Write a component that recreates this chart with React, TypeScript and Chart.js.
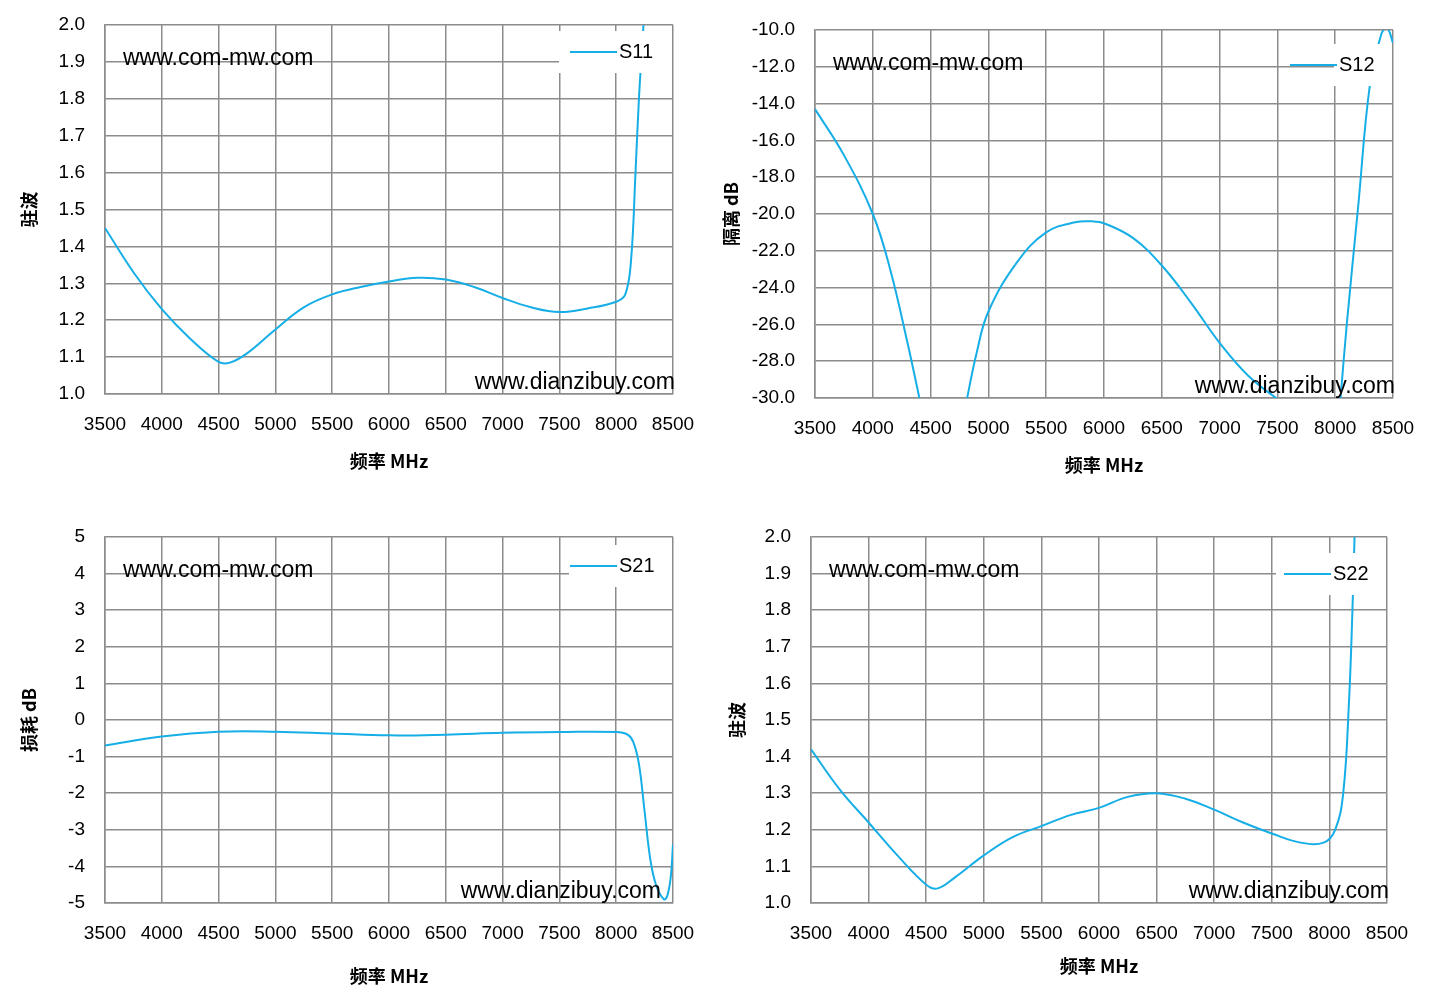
import React, { useEffect, useRef } from "react";
import { Chart, registerables } from "chart.js";
Chart.register(...registerables);

const s11X = [3500,3750,4000,4250,4500,4600,4750,5000,5250,5500,5750,6000,6250,6500,6750,7000,7250,7500,7750,8000,8080,8130,8170,8200,8230,8250];
const s11Y = [1.45,1.33,1.23,1.15,1.087,1.085,1.11,1.175,1.235,1.27,1.29,1.305,1.315,1.31,1.29,1.26,1.235,1.222,1.232,1.25,1.27,1.36,1.6,1.8,1.95,2.05];
const s12X = [3500,3750,4000,4150,4300,4420,4430,4780,4800,4900,5000,5250,5500,5750,5900,6000,6250,6500,6750,7000,7250,7550,7560,8020,8040,8100,8200,8300,8400,8450,8500];
const s12Y: (number|null)[] = [-14.3,-16.8,-20,-23,-27,-30.5,null,null,-30.5,-27.5,-25.3,-22.6,-21,-20.45,-20.4,-20.5,-21.3,-22.8,-24.8,-27,-28.8,-30.3,null,null,-30.5,-26,-19.5,-13,-10.2,-9.9,-10.7];
const s21X = [3500,4000,4500,5000,5500,6000,6500,7000,7500,8000,8100,8150,8200,8250,8300,8350,8420,8450,8480,8500];
const s21Y = [-0.7,-0.45,-0.32,-0.32,-0.37,-0.42,-0.4,-0.35,-0.33,-0.33,-0.4,-0.6,-1.2,-2.5,-3.8,-4.5,-4.9,-4.8,-4.3,-3.4];
const s22X = [3500,3750,4000,4250,4500,4600,4750,5000,5250,5500,5750,6000,6250,6500,6750,7000,7250,7500,7750,7950,8050,8120,8170,8200,8220];
const s22Y = [1.42,1.31,1.22,1.13,1.05,1.04,1.07,1.13,1.18,1.21,1.24,1.26,1.29,1.30,1.285,1.255,1.22,1.19,1.165,1.165,1.2,1.3,1.55,1.8,2.02];

const BLUE = "#16aee6";
const GRID = "#8c8c8c";
const TICKF = { family: "'Liberation Sans', 'Open Sans', sans-serif", size: 19 };
const TITLEF = { family: "'Noto Sans CJK SC', sans-serif", size: 18, weight: "bold" as const };
const WMF = "23px 'Liberation Sans', 'Open Sans', sans-serif";

type Cfg = {
  left: number; top: number; h: number;
  plotL: number; padL: number; padR: number; padT: number; xH: number; titleB: number;
  xs: number[]; ys: (number|null)[]; min: number; max: number; step: number; dec: number;
  label: string; ytitle: string;
  legW: number; legDy: number; bottomDy: number;
};

const cfgs: Cfg[] = [
  { left: 0, top: 0, h: 500, plotL: 105, padL: 14, padR: 43, padT: 25, xH: 106, titleB: 28, xs: s11X, ys: s11Y, min: 1, max: 2, step: 0.1, dec: 1, label: "S11", ytitle: "驻波", legW: 113, legDy: 6, bottomDy: 0 },
  { left: 716, top: 0, h: 500, plotL: 99, padL: 0, padR: 39, padT: 30, xH: 102, titleB: 24, xs: s12X, ys: s12Y, min: -30, max: -10, step: 2, dec: 1, label: "S12", ytitle: "隔离 dB", legW: 58, legDy: 14, bottomDy: 0 },
  { left: 0, top: 500, h: 502, plotL: 105, padL: 14, padR: 43, padT: 37, xH: 99, titleB: 15, xs: s21X, ys: s21Y, min: -5, max: 5, step: 1, dec: 0, label: "S21", ytitle: "损耗 dB", legW: 103, legDy: 8, bottomDy: -14 },
  { left: 716, top: 500, h: 502, plotL: 95, padL: 6, padR: 45, padT: 37, xH: 99, titleB: 25, xs: s22X, ys: s22Y, min: 1, max: 2, step: 0.1, dec: 1, label: "S22", ytitle: "驻波", legW: 110, legDy: 16, bottomDy: 0 },
];

function OneChart({ c }: { c: Cfg }) {
  const ref = useRef<HTMLCanvasElement>(null);
  useEffect(() => {
    const overlay = {
      id: "overlay",
      afterDraw(chart: any) {
        const { ctx, chartArea: a } = chart;
        ctx.save();
        ctx.font = WMF;
        ctx.fillStyle = "#000";
        ctx.textBaseline = "alphabetic";
        ctx.textAlign = "left";
        ctx.fillText("www.com-mw.com", a.left + 18, a.top + 40);
        ctx.textAlign = "right";
        ctx.fillText("www.dianzibuy.com", a.right + 2 + c.bottomDy, a.bottom - 5);
        const bx = a.right - c.legW - 1, by = a.top + c.legDy, bw = c.legW, bh = 42;
        ctx.fillStyle = "#fff";
        ctx.fillRect(bx, by, bw, bh);
        const my = by + bh / 2;
        ctx.strokeStyle = BLUE; ctx.lineWidth = 2;
        ctx.beginPath(); ctx.moveTo(a.right - 103, my); ctx.lineTo(a.right - 56, my); ctx.stroke();
        ctx.font = "20px 'Liberation Sans', 'Open Sans', sans-serif";
        ctx.fillStyle = "#000"; ctx.textAlign = "left"; ctx.textBaseline = "middle";
        ctx.fillText(c.label, a.right - 54, my);
        ctx.restore();
      },
    };
    const chart = new Chart(ref.current!, {
      type: "line",
      data: {
        datasets: [{
          data: c.xs.map((x, i) => ({ x, y: c.ys[i] as any })),
          borderColor: BLUE, borderWidth: 2, pointRadius: 0, tension: 0.4, spanGaps: false,
        }],
      },
      options: {
        animation: false, responsive: false,
        layout: { padding: { left: c.padL, right: c.padR, top: c.padT, bottom: 0 } },
        plugins: { legend: { display: false }, tooltip: { enabled: false } },
        scales: {
          x: {
            type: "linear", min: 3500, max: 8500,
            ticks: { stepSize: 500, font: TICKF, color: "#000", maxRotation: 0, padding: 19, callback: (v: any) => String(v) },
            grid: { color: GRID, lineWidth: 1.5, drawTicks: false },
            border: { color: GRID, width: 1.5 },
            title: { display: true, text: "频率 MHz", font: TITLEF, color: "#000", padding: { top: 0, bottom: c.titleB } },
            afterFit: (s: any) => { s.height = c.xH; s.paddingLeft = 0; s.paddingRight = 0; },
          },
          y: {
            min: c.min, max: c.max,
            ticks: { stepSize: c.step, font: TICKF, color: "#000", padding: 20, callback: (v: any) => Number(v).toFixed(c.dec) },
            grid: { color: GRID, lineWidth: 1.5, drawTicks: false },
            border: { color: GRID, width: 1.5 },
            title: { display: true, text: c.ytitle, font: TITLEF, color: "#000", padding: { bottom: 4 } },
            afterFit: (s: any) => { s.width = c.plotL - c.padL; s.paddingTop = 0; s.paddingBottom = 0; },
          },
        },
      } as any,
      plugins: [overlay],
    });
    return () => chart.destroy();
  }, []);
  return (
    <canvas ref={ref} width={716} height={c.h}
      style={{ position: "absolute", left: c.left, top: c.top, width: 716, height: c.h }} />
  );
}

export default function App() {
  return (
    <div style={{ position: "absolute", left: 0, top: 0, width: 1432, height: 1002, background: "#fff" }}>
      {cfgs.map((c, i) => <OneChart key={i} c={c} />)}
    </div>
  );
}
